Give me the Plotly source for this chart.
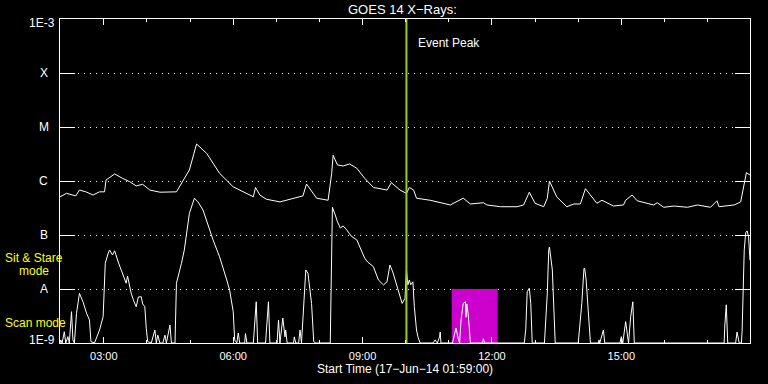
import math
import plotly.graph_objects as go

DAY = "2014-06-17 "
X_START = "01:59"
X_END = "17:59"

# GOES long channel (1-8 A)
long_t = ["01:59","02:08","02:21","02:26","02:35","02:45","02:54","03:01","03:03","03:15",
          "03:26","03:36","03:45","03:54","04:04","04:18","04:41","04:48","04:59","05:09",
          "05:23","05:41","06:00","06:28","06:31","06:37","06:46","07:05","07:23","07:37",
          "07:42","07:56","08:12","08:17","08:19","08:25","08:33","08:42","08:52","09:03",
          "09:15","09:34","09:40","09:52","10:01","10:05","10:11","10:15","10:34","11:02",
          "11:20","11:30","11:48","11:53","12:12","12:35","12:44","12:52","13:00","13:12",
          "13:17","13:20","13:30","13:44","13:54","14:03","14:10","14:26","14:33","14:49",
          "15:03","15:06","15:15","15:22","15:45","15:50","15:59","16:13","16:32","16:46",
          "17:04","17:13","17:16","17:37","17:46","17:51","17:54","17:59"]
long_v = [5.1e-7,5.9e-7,5.3e-7,6.8e-7,6.3e-7,5.5e-7,6.3e-7,6.3e-7,1.04e-6,1.35e-6,
          1.12e-6,9.7e-7,8.1e-7,8.7e-7,6.8e-7,6.2e-7,6.3e-7,9.1e-7,1.6e-6,4.84e-6,
          3.26e-6,1.39e-6,7.8e-7,5.1e-7,7.6e-7,5.5e-7,4.6e-7,4.1e-7,4.8e-7,5.3e-7,
          8.8e-7,4.8e-7,4.4e-7,1.39e-6,3.0e-6,1.98e-6,1.9e-6,2.07e-6,1.72e-6,1.12e-6,
          7.6e-7,6.8e-7,9.3e-7,6.8e-7,5.9e-7,7.6e-7,6.8e-7,4.8e-7,4.4e-7,3.6e-7,
          4.8e-7,3.75e-7,3.96e-7,3.6e-7,3.34e-7,3.34e-7,3.6e-7,6.2e-7,3.86e-7,3.34e-7,
          4.8e-7,1.0e-6,5.1e-7,3.34e-7,3.75e-7,3.75e-7,7.2e-7,3.86e-7,4.4e-7,3.44e-7,
          3.6e-7,4.4e-7,5.5e-7,4.3e-7,3.6e-7,3.96e-7,3.26e-7,3.44e-7,3.26e-7,3.6e-7,
          3.26e-7,4.3e-7,3.34e-7,3.6e-7,4.1e-7,9.7e-7,1.43e-6,1.29e-6]

# GOES short channel (0.5-4 A)
short_t = ["01:59","02:00","02:02","02:05","02:07","02:10","02:12","02:15","02:17","02:19",
           "02:22","02:26","02:31","02:36","02:40","02:42","02:47","02:54","02:59","03:02",
           "03:06","03:08","03:12","03:15","03:20","03:26","03:31","03:33","03:38","03:41",
           "03:45","03:48","03:52","03:54","03:57","03:59","04:01","04:06","04:11","04:13",
           "04:15","04:18","04:22","04:25","04:27","04:32","04:34","04:39","04:41","04:48",
           "04:52","04:59","05:06","05:11","05:18","05:32","05:41","05:51","05:55","06:00",
           "06:02","06:05","06:07","06:09","06:16","06:17","06:19","06:28","06:32","06:34",
           "06:45","06:49","06:51","07:01","07:03","07:05","07:08","07:09","07:12","07:13",
           "07:15","07:24","07:25","07:27","07:31","07:33","07:35","07:37","07:41","07:44",
           "07:47","07:49","07:52","07:55","08:15","08:17","08:18","08:22","08:25","08:29",
           "08:33","08:38","08:44","08:52","08:57","09:03","09:07","09:15","09:22","09:26",
           "09:29","09:34","09:38","09:42","09:48","09:55","09:59","10:01","10:03","10:05",
           "10:07","10:10","10:12","10:15","10:17","10:20","10:38","10:41","10:44","10:47",
           "10:48","10:49","11:05","11:08","11:10","11:13","11:15","11:17","11:20","11:23",
           "11:24","11:25","11:27","11:30","11:47","11:48","11:50","12:45","12:47","12:49",
           "12:52","12:54","12:56","13:13","13:14","13:17","13:19","13:20","13:24","13:26",
           "13:28","14:00","14:05","14:08","14:09","14:11","14:14","14:17","14:28","14:29",
           "14:30","14:32","14:35","14:37","14:58","15:00","15:02","15:06","15:08","15:10",
           "15:13","15:16","15:18","17:23","17:24","17:26","17:28","17:39","17:41","17:44",
           "17:47","17:48","17:51","17:53","17:55","17:57","17:59"]
short_v = [1e-9,1.14e-9,1e-9,1.62e-9,1e-9,1.31e-9,1e-9,3.8e-9,1.14e-9,1e-9,
           3.55e-9,8.3e-9,5.8e-9,3.55e-9,2.67e-9,1.06e-9,1e-9,1.74e-9,3.07e-9,3.0e-8,
           4.58e-8,5.27e-8,4.26e-8,5.1e-8,3.16e-8,1.95e-8,1.28e-8,1.74e-8,8.3e-9,6.3e-9,
           4.7e-9,7.1e-9,7.2e-9,5.3e-9,4.7e-9,1.87e-9,1.06e-9,1e-9,1.74e-9,1e-9,
           1.4e-9,1e-9,1e-9,1.4e-9,1e-9,2.15e-9,1e-9,1e-9,1.28e-8,3.0e-8,
           5.3e-8,2.52e-7,4.8e-7,4.1e-7,2.9e-7,8.1e-8,3.96e-8,1.47e-8,9.5e-9,3.8e-9,
           1.14e-9,1e-9,1.53e-9,1e-9,1e-9,1.5e-9,1e-9,1e-9,5.8e-9,1e-9,
           1e-9,5.8e-9,1e-9,1e-9,2.67e-9,1e-9,2.15e-9,2.9e-9,1.3e-9,1.74e-9,
           1e-9,1e-9,1.3e-9,1e-9,1e-9,1.74e-9,1e-9,2.67e-9,2.25e-8,1.95e-8,
           9.5e-9,5.4e-9,1.06e-9,1e-9,1e-9,5.3e-8,3.26e-7,2.34e-7,1.76e-7,1.35e-7,
           1.47e-7,1.24e-7,9.6e-8,8.1e-8,5.5e-8,3.7e-8,3.16e-8,2.59e-8,1.47e-8,1.29e-8,
           1.19e-8,1.36e-8,2.78e-8,2.07e-8,1.1e-8,5.4e-9,6.7e-9,2.25e-8,1.19e-8,1.47e-8,
           1.2e-8,1.36e-8,4.7e-9,1.74e-9,1.3e-9,1e-9,1e-9,1.14e-9,1e-9,1.3e-9,
           1.6e-9,1e-9,1e-9,1.6e-9,1.9e-9,1.2e-9,1e-9,2.67e-9,5.4e-9,5.8e-9,
           3.0e-9,5.3e-9,3.3e-9,1e-9,1e-9,1.2e-9,1e-9,1e-9,1.8e-9,8.9e-9,
           1.03e-8,5.4e-9,1e-9,1e-9,1.74e-9,8.3e-9,5.3e-8,6.0e-8,2.25e-8,6.3e-9,
           1e-9,1e-9,5.4e-9,2.42e-8,2.4e-8,1.47e-8,3.07e-9,1e-9,1e-9,1.14e-9,
           1e-9,1.2e-9,1.74e-9,1e-9,1e-9,1.31e-9,1e-9,2.48e-9,1.62e-9,1e-9,
           3.07e-9,5.8e-9,1e-9,1e-9,2.15e-9,5.1e-9,1e-9,1e-9,1.6e-9,1e-9,
           1e-9,1.6e-9,5.3e-8,1.1e-7,1.19e-7,9.3e-8,3.4e-8]

EVENT_PEAK = "10:01"
SCAN_START, SCAN_END = "11:04", "12:08"
Y_LEVELS = [1e-9, 1e-8, 1e-7, 1e-6, 1e-5, 1e-4, 1e-3]
Y_LABELS = ["1E-9", "A", "B", "C", "M", "X", "1E-3"]

FONT = "Liberation Sans"

def d(t):
    return DAY + t

fig = go.Figure()

# scan window (magenta box between 1E-9 and A level)
fig.add_trace(go.Scatter(
    x=[d(SCAN_START), d(SCAN_END), d(SCAN_END), d(SCAN_START), d(SCAN_START)],
    y=[Y_LEVELS[0], Y_LEVELS[0], Y_LEVELS[1], Y_LEVELS[1], Y_LEVELS[0]],
    mode="lines", fill="toself", fillcolor="#CC00CC",
    line=dict(width=0, color="#CC00CC"), hoverinfo="skip"))

fig.add_trace(go.Scatter(x=[d(t) for t in long_t], y=long_v, mode="lines",
                         line=dict(color="white", width=1)))
fig.add_trace(go.Scatter(x=[d(t) for t in short_t], y=short_v, mode="lines",
                         line=dict(color="white", width=1)))

fig.add_trace(go.Scatter(x=[d(EVENT_PEAK), d(EVENT_PEAK)], y=[Y_LEVELS[0], Y_LEVELS[-1]],
                         mode="lines", line=dict(color="#9ACD1E", width=2)))

fig.update_layout(
    width=768, height=384,
    margin=dict(l=60, r=18, t=19, b=41),
    paper_bgcolor="black", plot_bgcolor="black",
    showlegend=False,
    font=dict(family=FONT, color="white", size=11),
    xaxis=dict(
        type="date", range=[d(X_START), d(X_END)],
        showline=True, linecolor="white", linewidth=1, mirror="ticks",
        ticks="inside", ticklen=6, tickcolor="white", tickwidth=1,
        tick0=d("03:00"), dtick=3 * 3600000, tickformat="%H:%M",
        tickfont=dict(family=FONT, color="white", size=11),
        ticklabelstandoff=3,
        showgrid=False, zeroline=False,
        minor=dict(tick0=d("03:00"), dtick=3600000, ticks="inside", ticklen=3,
                   tickcolor="white", tickwidth=1, showgrid=False),
    ),
    yaxis=dict(
        type="log", range=[-9, -3],
        showline=True, linecolor="white", linewidth=1, mirror="ticks",
        ticks="inside", ticklen=15, tickcolor="white", tickwidth=1,
        tickmode="array", tickvals=Y_LEVELS, showticklabels=False,
        showgrid=True, gridcolor="white", gridwidth=1, griddash="1px,5px",
        zeroline=False,
    ),
)

annotations = []
# y-axis labels
y_label_shift = [3, 0, 0, 0, 0, 0, -4]
for v, lab, sh in zip(Y_LEVELS, Y_LABELS, y_label_shift):
    is_num = lab.startswith("1E")
    annotations.append(dict(xref="paper", yref="y",
                            x=-0.004 if is_num else -0.0232, y=math.log10(v),
                            text=lab, showarrow=False,
                            xanchor="right" if is_num else "center", yanchor="middle",
                            yshift=sh, font=dict(family=FONT, size=12, color="white")))

annotations += [
    dict(xref="paper", yref="paper", x=0.496, y=1.029, text="GOES 14 X\u2212Rays:",
         showarrow=False, xanchor="center", yanchor="middle",
         font=dict(family=FONT, size=13, color="white")),
    dict(xref="x", yref="paper", x=d(EVENT_PEAK), y=0.926, xshift=10, text="Event Peak",
         showarrow=False, xanchor="left", yanchor="middle",
         font=dict(family=FONT, size=12, color="white")),
    dict(xref="paper", yref="paper", x=0.5, y=-0.0817, text="Start Time (17\u2212Jun\u221214 01:59:00)",
         showarrow=False, xanchor="center", yanchor="middle",
         font=dict(family=FONT, size=12, color="white")),
    dict(xref="paper", yref="paper", x=-0.0377, y=(343 - 258) / 324, text="Sit & Stare",
         showarrow=False, xanchor="center", yanchor="middle",
         font=dict(family=FONT, size=12, color="#FFFF00")),
    dict(xref="paper", yref="paper", x=-0.0377, y=(343 - 271) / 324, text="mode",
         showarrow=False, xanchor="center", yanchor="middle",
         font=dict(family=FONT, size=12, color="#FFFF00")),
    dict(xref="paper", yref="paper", x=-0.0826, y=(343 - 323) / 324, text="Scan mode",
         showarrow=False, xanchor="left", yanchor="middle",
         font=dict(family=FONT, size=12, color="#FFFF00")),
]
fig.update_layout(annotations=annotations)

fig.write_html("out.html")
